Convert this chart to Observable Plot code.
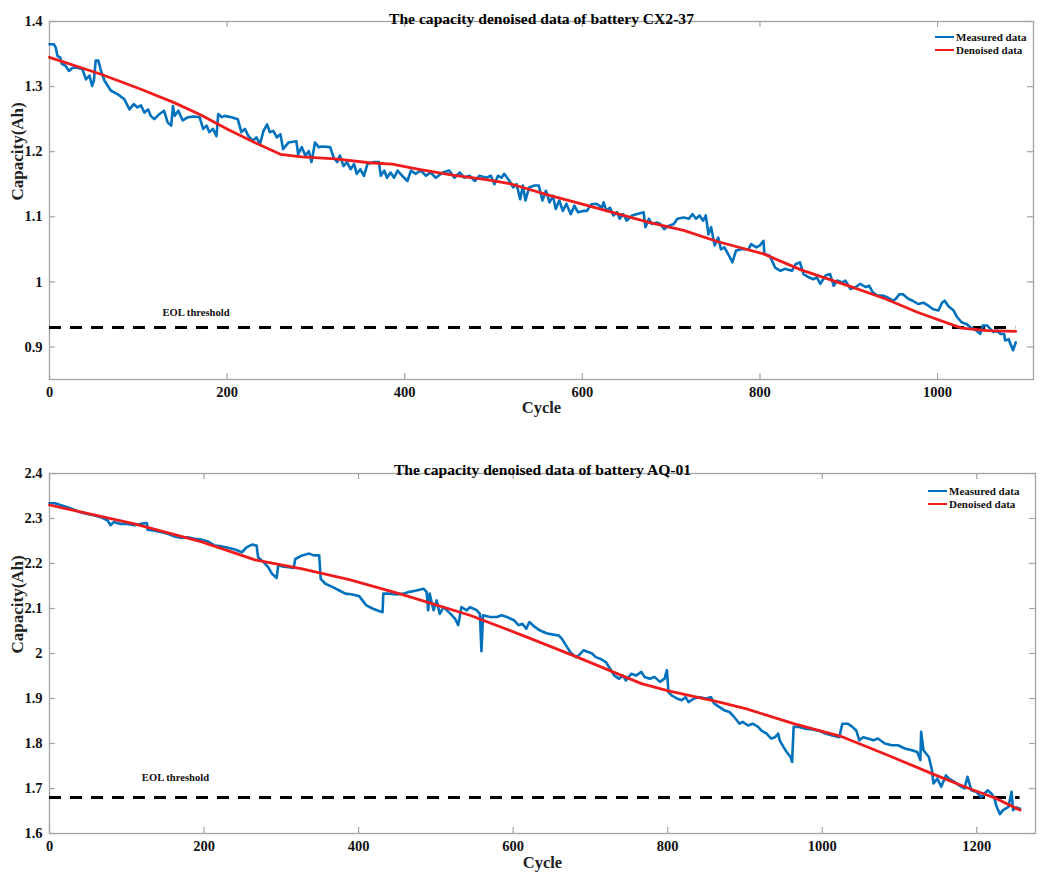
<!DOCTYPE html>
<html>
<head>
<meta charset="utf-8">
<script src="https://cdn.jsdelivr.net/npm/d3@7"></script>
<script src="https://cdn.jsdelivr.net/npm/@observablehq/plot@0.6"></script>
<style>
  html, body { margin: 0; padding: 0; background: #fff; }
  #wrap { position: relative; width: 1052px; height: 876px; overflow: hidden; }
  #wrap svg { display: block; }
  .legend { position: absolute; font-family: "Liberation Serif", "Times New Roman", serif; font-weight: bold; font-size: 11px; color: #111; line-height: 12.5px; }
  .legend .row { display: flex; align-items: center; white-space: nowrap; }
  .legend .sw { width: 19px; height: 0; border-top: 2.6px solid; margin-right: 2px; }
</style>
</head>
<body>
<div id="wrap"></div>
<script>
// ---------------- Battery CX2-37 ----------------
const cx2Title = "The capacity denoised data of battery CX2-37";
const cx2Cycles = [0,5,7,9,12,14,18,22,26,31,37,41,45,48,50,52,55,58,62,69,77,84,90,95,99,103,107,111,114,118,124,129,133,137,139,141,145,150,156,163,169,173,177,180,184,188,190,194,197,205,212,216,220,224,229,233,237,241,245,248,252,256,260,263,269,278,280,284,288,292,295,299,303,307,316,320,324,327,331,335,339,343,346,350,354,358,365,371,373,377,380,384,388,392,397,403,407,412,418,424,429,435,443,450,456,462,467,473,479,484,492,497,501,505,509,512,518,522,526,530,533,536,540,546,551,555,559,563,567,570,574,578,582,587,591,595,601,605,610,616,622,624,627,631,635,639,642,646,650,656,661,669,671,675,678,684,688,692,697,703,707,714,720,724,728,732,736,739,742,745,749,753,756,760,766,769,773,779,787,790,796,800,804,805,811,817,823,828,836,840,845,849,855,860,864,868,874,879,883,887,893,896,902,908,913,919,923,927,932,938,944,950,953,957,961,967,972,978,984,990,995,1001,1005,1008,1012,1018,1022,1027,1033,1037,1040,1044,1048,1051,1056,1059,1063,1067,1071,1075,1076,1080,1082,1085,1088];
const cx2Measured = [1.365,1.365,1.36,1.347,1.345,1.335,1.332,1.324,1.329,1.329,1.327,1.311,1.317,1.301,1.309,1.340,1.340,1.324,1.309,1.294,1.288,1.281,1.265,1.273,1.268,1.271,1.26,1.265,1.255,1.25,1.258,1.263,1.245,1.24,1.27,1.255,1.263,1.248,1.253,1.254,1.253,1.235,1.24,1.23,1.235,1.224,1.258,1.253,1.255,1.253,1.25,1.23,1.235,1.224,1.217,1.222,1.212,1.232,1.242,1.23,1.232,1.222,1.227,1.204,1.214,1.216,1.196,1.207,1.194,1.201,1.184,1.214,1.207,1.208,1.207,1.191,1.184,1.194,1.178,1.184,1.173,1.181,1.166,1.173,1.163,1.181,1.184,1.184,1.163,1.171,1.16,1.168,1.16,1.171,1.163,1.155,1.171,1.166,1.171,1.163,1.168,1.16,1.168,1.171,1.16,1.168,1.16,1.163,1.155,1.163,1.16,1.163,1.15,1.163,1.16,1.166,1.155,1.145,1.15,1.127,1.148,1.125,1.145,1.148,1.148,1.125,1.14,1.122,1.132,1.112,1.125,1.109,1.12,1.104,1.117,1.107,1.109,1.109,1.119,1.12,1.114,1.122,1.109,1.114,1.102,1.107,1.097,1.104,1.094,1.102,1.104,1.107,1.084,1.097,1.089,1.091,1.089,1.081,1.086,1.089,1.097,1.099,1.097,1.104,1.097,1.102,1.094,1.102,1.073,1.084,1.056,1.068,1.05,1.053,1.038,1.03,1.048,1.05,1.05,1.058,1.053,1.056,1.063,1.043,1.04,1.022,1.017,1.02,1.017,1.027,1.03,1.012,1.007,1.004,1.007,0.997,1.01,1.012,0.994,1.002,0.999,1.002,0.989,0.992,0.997,0.992,0.994,0.984,0.979,0.979,0.976,0.971,0.974,0.981,0.981,0.974,0.971,0.966,0.968,0.963,0.958,0.956,0.968,0.971,0.963,0.956,0.946,0.938,0.935,0.93,0.928,0.925,0.92,0.933,0.933,0.928,0.923,0.925,0.92,0.92,0.91,0.912,0.905,0.895,0.907];
const cx2DenoisedCycles = [0,58,103,141,171,201,231,260,284,322,360,386,416,454,492,518,533,563,601,676,714,752,804,847,904,941,978,1027,1056,1088];
const cx2Denoised = [1.345,1.319,1.296,1.275,1.256,1.234,1.214,1.196,1.192,1.189,1.183,1.181,1.173,1.164,1.157,1.151,1.145,1.133,1.119,1.091,1.079,1.062,1.043,1.018,0.992,0.974,0.953,0.929,0.925,0.924];
const cx2EOL = 0.93;
const cx2XTicks = [0,200,400,600,800,1000];
const cx2YTicks = [0.9,1.0,1.1,1.2,1.3,1.4];

// ---------------- Battery AQ-01 ----------------
const aq01Title = "The capacity denoised data of battery AQ-01";
const aq01Cycles = [0,7,14,23,31,40,49,57,66,75,79,83,92,101,110,118,126,127,136,144,153,162,170,179,188,197,205,214,223,231,240,249,255,262,268,270,277,283,288,294,296,303,310,316,318,327,336,342,349,351,357,366,375,383,392,401,405,410,418,427,431,432,440,449,458,466,475,484,488,490,492,497,501,505,510,519,525,529,533,540,544,553,557,559,561,570,579,585,592,601,607,612,617,621,628,635,643,652,659,663,667,674,681,685,691,698,702,707,713,720,724,731,737,742,746,753,759,766,770,777,783,790,796,799,801,805,812,818,823,827,834,840,849,856,860,867,873,880,886,893,897,904,910,917,921,928,934,939,943,945,950,954,959,961,963,969,978,987,996,1004,1013,1022,1026,1033,1039,1044,1048,1053,1059,1066,1072,1081,1090,1098,1107,1116,1123,1127,1128,1131,1138,1142,1144,1149,1154,1160,1164,1171,1177,1184,1188,1193,1199,1206,1210,1214,1219,1223,1225,1230,1234,1241,1245,1247,1251,1256];
const aq01Measured = [2.334,2.334,2.33,2.325,2.32,2.314,2.31,2.307,2.303,2.296,2.285,2.292,2.288,2.288,2.285,2.288,2.29,2.275,2.273,2.27,2.266,2.26,2.257,2.258,2.255,2.253,2.249,2.24,2.238,2.235,2.231,2.225,2.236,2.242,2.24,2.214,2.203,2.192,2.177,2.168,2.196,2.193,2.192,2.19,2.21,2.218,2.222,2.218,2.218,2.166,2.155,2.148,2.14,2.133,2.131,2.127,2.118,2.107,2.1,2.094,2.092,2.133,2.133,2.131,2.133,2.137,2.14,2.144,2.137,2.096,2.133,2.096,2.118,2.088,2.103,2.088,2.077,2.063,2.103,2.096,2.103,2.096,2.088,2.005,2.085,2.081,2.081,2.085,2.081,2.074,2.063,2.066,2.055,2.07,2.059,2.051,2.045,2.042,2.04,2.033,2.022,2.003,1.992,1.996,2.007,2.003,2.0,1.992,1.988,1.981,1.97,1.951,1.944,1.951,1.94,1.955,1.951,1.959,1.948,1.944,1.948,1.937,1.944,1.963,1.914,1.907,1.9,1.896,1.903,1.892,1.9,1.903,1.9,1.903,1.889,1.881,1.874,1.87,1.859,1.844,1.848,1.84,1.844,1.837,1.829,1.822,1.811,1.814,1.822,1.807,1.792,1.781,1.77,1.759,1.837,1.837,1.833,1.831,1.828,1.822,1.818,1.814,1.844,1.844,1.837,1.829,1.807,1.814,1.811,1.807,1.811,1.8,1.796,1.796,1.789,1.785,1.781,1.763,1.826,1.785,1.77,1.741,1.711,1.722,1.704,1.729,1.722,1.715,1.707,1.7,1.726,1.696,1.693,1.681,1.689,1.696,1.689,1.678,1.663,1.643,1.652,1.659,1.693,1.652,1.658,1.655];
const aq01DenoisedCycles = [0,110,197,266,327,388,457,544,617,683,766,801,867,902,963,1024,1085,1142,1190,1225,1256];
const aq01Denoised = [2.33,2.288,2.248,2.208,2.188,2.164,2.131,2.085,2.037,1.992,1.933,1.917,1.892,1.877,1.844,1.816,1.774,1.733,1.7,1.678,1.652];
const aq01EOL = 1.68;
const aq01XTicks = [0,200,400,600,800,1000,1200];
const aq01YTicks = [1.6,1.7,1.8,1.9,2.0,2.1,2.2,2.3,2.4];

const seriesNames = ["Measured data", "Denoised data"];
const seriesColors = ["#0072BD", "#EE1C1C"];

const FONT = "'Liberation Serif', 'Times New Roman', serif";
const GREY = "#a3a3a3";

function zipRows(xs, ys) { return xs.map((c, i) => ({cycle: c, cap: ys[i]})); }
function fmtY(d) { return String(Math.round(d * 10) / 10); }
function fmtX(d) { return String(d); }

function makeChart(cfg) {
  const measured = zipRows(cfg.cycles, cfg.measured);
  const denoised = zipRows(cfg.denCycles, cfg.denoised);
  const lastCycle = cfg.cycles[cfg.cycles.length - 1];
  const pw = 1052 - cfg.ml - cfg.mr;
  const ph = cfg.height - cfg.mt - cfg.mb;
  return Plot.plot({
    width: 1052,
    height: cfg.height,
    marginTop: cfg.mt,
    marginBottom: cfg.mb,
    marginLeft: cfg.ml,
    marginRight: cfg.mr,
    style: {fontFamily: FONT, fontWeight: "bold", fontSize: "14.5px", color: "#111", background: "#fff", overflow: "visible"},
    x: {domain: cfg.xDomain},
    y: {domain: cfg.yDomain},
    marks: [
      Plot.frame({stroke: GREY, strokeWidth: 1.3}),
      // inward ticks on four sides
      Plot.tickX(cfg.xTicks, {x: d => d, insetTop: ph - 6, stroke: GREY, strokeWidth: 1.2}),
      Plot.tickX(cfg.xTicks, {x: d => d, insetBottom: ph - 6, stroke: GREY, strokeWidth: 1.2}),
      Plot.tickY(cfg.yTicks, {y: d => d, insetRight: pw - 6, stroke: GREY, strokeWidth: 1.2}),
      Plot.tickY(cfg.yTicks, {y: d => d, insetLeft: pw - 6, stroke: GREY, strokeWidth: 1.2}),
      Plot.axisX(cfg.xTicks, {anchor: "bottom", tickSize: 0, tickPadding: 7, label: null, tickFormat: fmtX, fontSize: 14.5}),
      Plot.axisY(cfg.yTicks, {anchor: "left", tickSize: 0, tickPadding: 7, label: null, tickFormat: fmtY, fontSize: 14.5}),
      // threshold
      Plot.ruleY([cfg.eol], {x1: cfg.cycles[0], x2: lastCycle, stroke: "#000", strokeWidth: 3, strokeDasharray: "12,9"}),
      Plot.text(["EOL threshold"], {x: cfg.eolLabelCycle, y: cfg.eol, dy: cfg.eolDy, fontSize: 10.6, fill: "#111"}),
      // series
      Plot.line(measured, {x: "cycle", y: "cap", stroke: seriesColors[0], strokeWidth: 2.6, strokeLinejoin: "round"}),
      Plot.line(denoised, {x: "cycle", y: "cap", stroke: seriesColors[1], strokeWidth: 2.8, strokeLinejoin: "round"}),
      // titles
      Plot.text([cfg.title], {frameAnchor: "top", dy: cfg.titleDy, fontSize: 15.6, fill: "#000"}),
      Plot.text(["Cycle"], {frameAnchor: "bottom", dy: cfg.cycleDy, fontSize: 16.5, fill: "#222"}),
      Plot.text(["Capacity(Ah)"], {frameAnchor: "left", dx: -32, rotate: -90, fontSize: 17, fill: "#222"})
    ]
  });
}

const wrap = document.getElementById("wrap");

wrap.appendChild(makeChart({
  title: cx2Title, cycles: cx2Cycles, measured: cx2Measured,
  denCycles: cx2DenoisedCycles, denoised: cx2Denoised, eol: cx2EOL,
  xTicks: cx2XTicks, yTicks: cx2YTicks,
  xDomain: [0, 1108], yDomain: [0.85, 1.4],
  height: 438, mt: 21, mb: 59, ml: 49, mr: 19,
  eolLabelCycle: 165, eolDy: -15, titleDy: -9, cycleDy: 33
}));

wrap.appendChild(makeChart({
  title: aq01Title, cycles: aq01Cycles, measured: aq01Measured,
  denCycles: aq01DenoisedCycles, denoised: aq01Denoised, eol: aq01EOL,
  xTicks: aq01XTicks, yTicks: aq01YTicks,
  xDomain: [0, 1276], yDomain: [1.6, 2.4],
  height: 438, mt: 35, mb: 43, ml: 49, mr: 17,
  eolLabelCycle: 163, eolDy: -20, titleDy: -10, cycleDy: 34
}));

// legends (HTML overlays inside each plot box, top-right)
function addLegend(left, top) {
  const lg = document.createElement("div");
  lg.className = "legend";
  lg.style.left = left + "px";
  lg.style.top = top + "px";
  seriesNames.forEach((name, i) => {
    const row = document.createElement("div");
    row.className = "row";
    const sw = document.createElement("span");
    sw.className = "sw";
    sw.style.borderTopColor = seriesColors[i];
    const tx = document.createElement("span");
    tx.textContent = name;
    row.appendChild(sw);
    row.appendChild(tx);
    lg.appendChild(row);
  });
  wrap.appendChild(lg);
}
addLegend(935, 31);
addLegend(928, 485);
</script>
</body>
</html>
